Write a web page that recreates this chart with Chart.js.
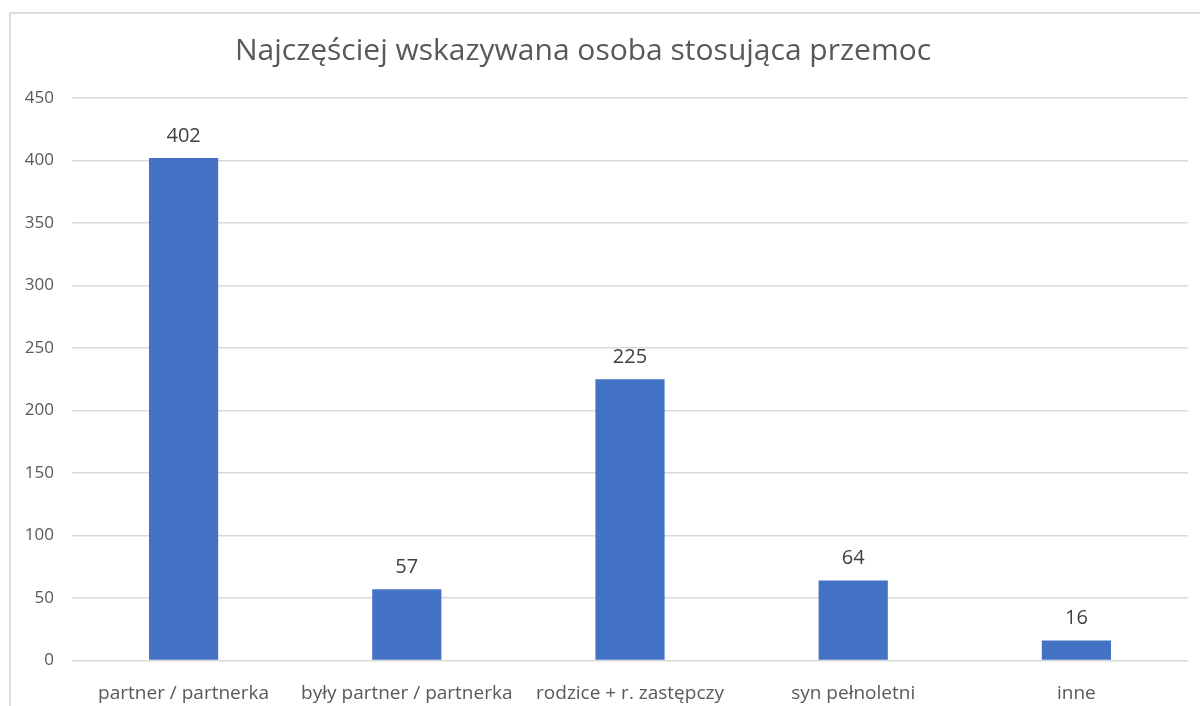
<!DOCTYPE html>
<html>
<head>
<meta charset="utf-8">
<script src="https://cdn.jsdelivr.net/npm/chart.js@4"></script>
<style>
  html, body { margin: 0; padding: 0; background: #fff; }
  #wrap { position: relative; width: 1200px; height: 706px; overflow: hidden; }
  #frame { position: absolute; left: 9px; top: 12px; width: 1200px; height: 720px; border: 2px solid #dcdcdc; box-sizing: border-box; }
  canvas { position: absolute; left: 0; top: 0; }
</style>
</head>
<body>
<div id="wrap">
  <div id="frame"></div>
  <canvas id="chart" width="1200" height="706"></canvas>
</div>
<script>
const categories = ['partner / partnerka', 'były partner / partnerka', 'rodzice + r. zastępczy', 'syn pełnoletni', 'inne'];
const values = [402, 57, 225, 64, 16];
const yTicks = [0, 50, 100, 150, 200, 250, 300, 350, 400, 450];
const chartTitle = 'Najczęściej wskazywana osoba stosująca przemoc';

const fontFamily = '"Open Sans", "Noto Sans", sans-serif';

// napis tytułu i etykiety wartości nad słupkami
const extras = {
    id: 'extras',
    afterDatasetsDraw(chart) {
        const ctx = chart.ctx;
        ctx.save();
        ctx.fillStyle = '#595959';
        ctx.font = '30px ' + fontFamily;
        ctx.textAlign = 'center';
        ctx.textBaseline = 'middle';
        ctx.fillText(chartTitle, 583, 51);

        ctx.fillStyle = '#404040';
        ctx.font = '20px ' + fontFamily;
        const meta = chart.getDatasetMeta(0);
        meta.data.forEach(function(bar, i) {
            ctx.fillText(String(values[i]), bar.x, bar.y - 22);
        });
        ctx.restore();
    }
};

new Chart(document.getElementById('chart'), {
    type: 'bar',
    data: {
        labels: categories,
        datasets: [{
            data: values,
            backgroundColor: '#4472c4',
            barPercentage: 1,
            categoryPercentage: 0.31
        }]
    },
    options: {
        responsive: false,
        animation: false,
        layout: { padding: { left: 0, right: 12, top: 98, bottom: 0 } },
        plugins: {
            legend: { display: false },
            tooltip: { enabled: false }
        },
        scales: {
            x: {
                grid: { display: false },
                border: { display: false },
                ticks: {
                    color: '#595959',
                    font: { family: fontFamily, size: 19 },
                    padding: 14,
                    maxRotation: 0
                },
                afterFit(scale) { scale.height = 45.5; }
            },
            y: {
                min: 0,
                max: 450,
                afterBuildTicks(scale) { scale.ticks = yTicks.map(v => ({ value: v })); },
                grid: { color: '#d9d9d9', lineWidth: 1.5, drawTicks: false },
                border: { display: false },
                ticks: {
                    color: '#595959',
                    font: { family: fontFamily, size: 17 },
                    padding: 18
                },
                afterFit(scale) { scale.width = 72; }
            }
        }
    },
    plugins: [extras]
});
</script>
</body>
</html>
